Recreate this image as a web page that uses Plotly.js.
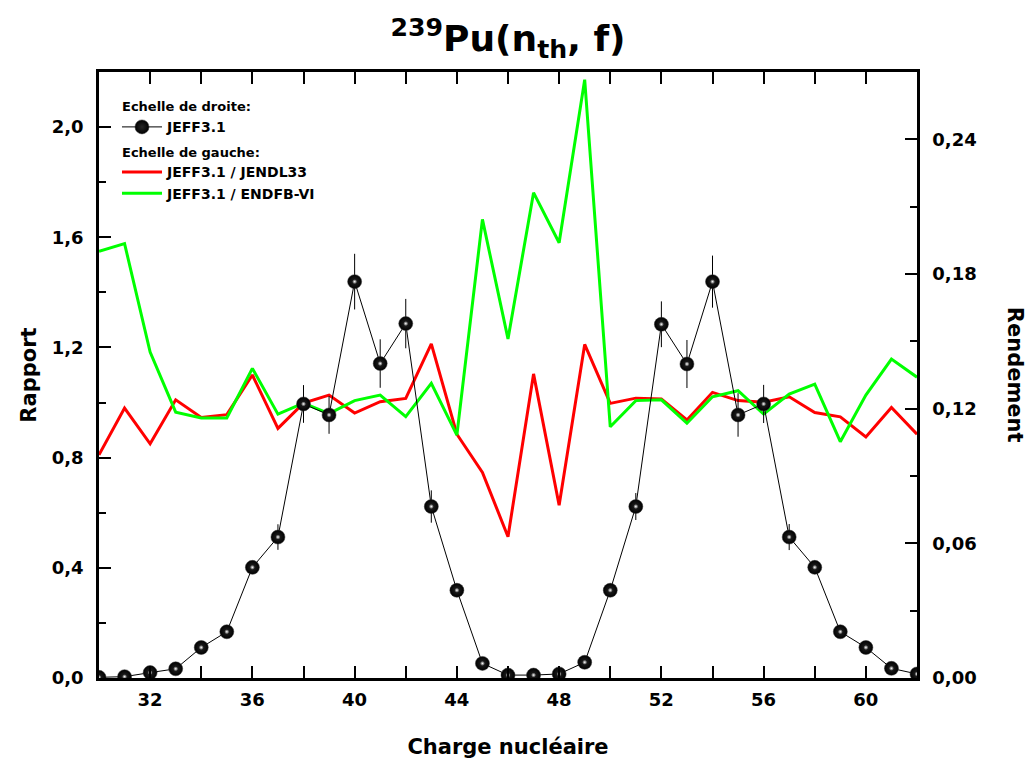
<!DOCTYPE html>
<html>
<head>
<meta charset="utf-8">
<script src="https://cdn.plot.ly/plotly-3.0.1.min.js"></script>
<style>html,body{margin:0;padding:0;background:#fff}#chart{width:1032px;height:763px}</style>
</head>
<body>
<div id="chart"></div>
<script>
// Charge nucléaire Z
const charge = [30,31,32,33,34,35,36,37,38,39,40,41,42,43,44,45,46,47,48,49,50,51,52,53,54,55,56,57,58,59,60,61,62];
// Rapport JEFF3.1 / JENDL33 (échelle de gauche)
const ratioJendl = [0.81,0.98,0.85,1.01,0.946,0.956,1.10,0.906,0.998,1.027,0.962,1.003,1.015,1.213,0.885,0.746,0.513,1.104,0.627,1.211,0.997,1.016,1.013,0.937,1.037,1.007,1.001,1.021,0.964,0.948,0.875,0.982,0.885];
// Rapport JEFF3.1 / ENDFB-VI (échelle de gauche)
const ratioEndf = [1.549,1.577,1.183,0.965,0.944,0.944,1.124,0.958,0.998,0.960,1.007,1.027,0.949,1.07,0.882,1.665,1.231,1.762,1.58,2.172,0.912,1.007,1.01,0.925,1.021,1.043,0.958,1.031,1.067,0.858,1.027,1.158,1.092];
// Rendement JEFF3.1 (échelle de droite)
const yieldJeff = [0.0003,0.0006,0.0024,0.0041,0.0136,0.0206,0.0493,0.0628,0.1221,0.1172,0.1766,0.1401,0.1579,0.0764,0.0391,0.0065,0.0013,0.0013,0.0018,0.007,0.0391,0.0764,0.1576,0.1399,0.1766,0.1172,0.1221,0.0628,0.0493,0.0206,0.0136,0.0043,0.0018];
const yieldErr = [0,0,0,0,0,0.001,0.002,0.0057,0.0084,0.0084,0.0124,0.0108,0.011,0.0072,0.003,0.001,0,0,0,0.001,0.003,0.006,0.0102,0.0107,0.0116,0.0097,0.0085,0.0058,0.003,0.001,0,0,0];

const FONT = 'DejaVu Sans, Verdana, sans-serif';
const headFont = {family: FONT, size: 13, weight: 'bold', color: '#000'};
const legFont = {family: FONT, size: 14, weight: 'bold', color: '#000'};

const traces = [
  {
    x: charge, y: ratioJendl, type: 'scatter', mode: 'lines',
    name: 'JEFF3.1 / JENDL33', line: {color: '#ff0000', width: 3},
    legendgroup: 'gauche', legendgrouptitle: {text: 'Echelle de gauche:', font: headFont},
    legendrank: 2, yaxis: 'y', hoverinfo: 'x+y'
  },
  {
    x: charge, y: ratioEndf, type: 'scatter', mode: 'lines',
    name: 'JEFF3.1 / ENDFB-VI', line: {color: '#00ff00', width: 3},
    legendgroup: 'gauche', legendrank: 3, yaxis: 'y', hoverinfo: 'x+y'
  },
  {
    x: charge, y: yieldJeff, type: 'scatter', mode: 'lines+markers',
    name: 'JEFF3.1', line: {color: '#000', width: 1},
    marker: {color: '#000', size: 14, line: {color: '#333', width: 0.5}, gradient: {type: 'radial', color: '#262626'}},
    error_y: {type: 'data', array: yieldErr, visible: true, width: 0, thickness: 1, color: '#000'},
    legendgroup: 'droite', legendgrouptitle: {text: 'Echelle de droite:', font: headFont},
    legendrank: 1, yaxis: 'y2'
  },
  {
    x: charge, y: yieldJeff, type: 'scatter', mode: 'markers',
    showlegend: false, hoverinfo: 'skip',
    marker: {color: 'rgba(255,255,255,0)', size: 5, gradient: {type: 'radial', color: '#ffffff'}},
    yaxis: 'y2'
  }
];

const tickFont = {family: FONT, size: 18, weight: 'bold', color: '#000'};

const layout = {
  width: 1032, height: 763,
  paper_bgcolor: '#fff', plot_bgcolor: '#fff',
  separators: ', ',
  margin: {l: 99, r: 115, t: 72, b: 85},
  font: {family: FONT, color: '#000'},
  title: {
    text: '<sup>239</sup>Pu(n<sub>th</sub>, f)',
    font: {family: FONT, size: 36, weight: 'bold', color: '#000'},
    x: 0.5, xref: 'paper', y: 0.95, yref: 'container', yanchor: 'middle'
  },
  showlegend: true,
  legend: {
    x: 0.022, y: 0.968, xanchor: 'left', yanchor: 'top',
    bgcolor: 'rgba(0,0,0,0)', borderwidth: 0,
    font: legFont,
    traceorder: 'grouped', tracegroupgap: 4, itemwidth: 40
  },
  xaxis: {
    range: [30, 62], tick0: 32, dtick: 4,
    ticks: 'inside', ticklen: 12, tickwidth: 2, tickcolor: '#000',
    minor: {ticks: 'inside', ticklen: 7, tickwidth: 2, tickcolor: '#000', dtick: 2, tick0: 30},
    showline: true, linewidth: 2.5, linecolor: '#000', mirror: 'allticks',
    showgrid: false, zeroline: false,
    tickfont: tickFont, ticklabelstandoff: 4,
    title: {text: 'Charge nucléaire', font: {family: FONT, size: 21, weight: 'bold', color: '#000'}, standoff: 30}
  },
  yaxis: {
    range: [0, 2.2], tick0: 0, dtick: 0.4, tickformat: '.1f',
    ticks: 'inside', ticklen: 12, tickwidth: 2, tickcolor: '#000',
    minor: {ticks: 'inside', ticklen: 7, tickwidth: 2, tickcolor: '#000', dtick: 0.2, tick0: 0},
    showline: true, linewidth: 2.5, linecolor: '#000', mirror: false,
    showgrid: false, zeroline: false,
    tickfont: tickFont, ticklabelstandoff: 9
  },
  yaxis2: {
    overlaying: 'y', side: 'right',
    range: [0, 0.27], tick0: 0, dtick: 0.06, tickformat: '.2f',
    ticks: 'inside', ticklen: 12, tickwidth: 2, tickcolor: '#000',
    minor: {ticks: 'inside', ticklen: 7, tickwidth: 2, tickcolor: '#000', dtick: 0.03, tick0: 0},
    showline: true, linewidth: 2.5, linecolor: '#000',
    showgrid: false, zeroline: false,
    tickfont: tickFont, ticklabelstandoff: 9
  },
  annotations: [
    {text: 'Rapport', xref: 'paper', yref: 'paper', x: -0.086, y: 0.5, xanchor: 'center', yanchor: 'middle',
     textangle: -90, showarrow: false, font: {family: FONT, size: 21, weight: 'bold', color: '#000'}},
    {text: 'Rendement', xref: 'paper', yref: 'paper', x: 1.12, y: 0.5, xanchor: 'center', yanchor: 'middle',
     textangle: 90, showarrow: false, font: {family: FONT, size: 21, weight: 'bold', color: '#000'}}
  ]
};

Plotly.newPlot('chart', traces, layout, {displayModeBar: false, responsive: false});
</script>
</body>
</html>
